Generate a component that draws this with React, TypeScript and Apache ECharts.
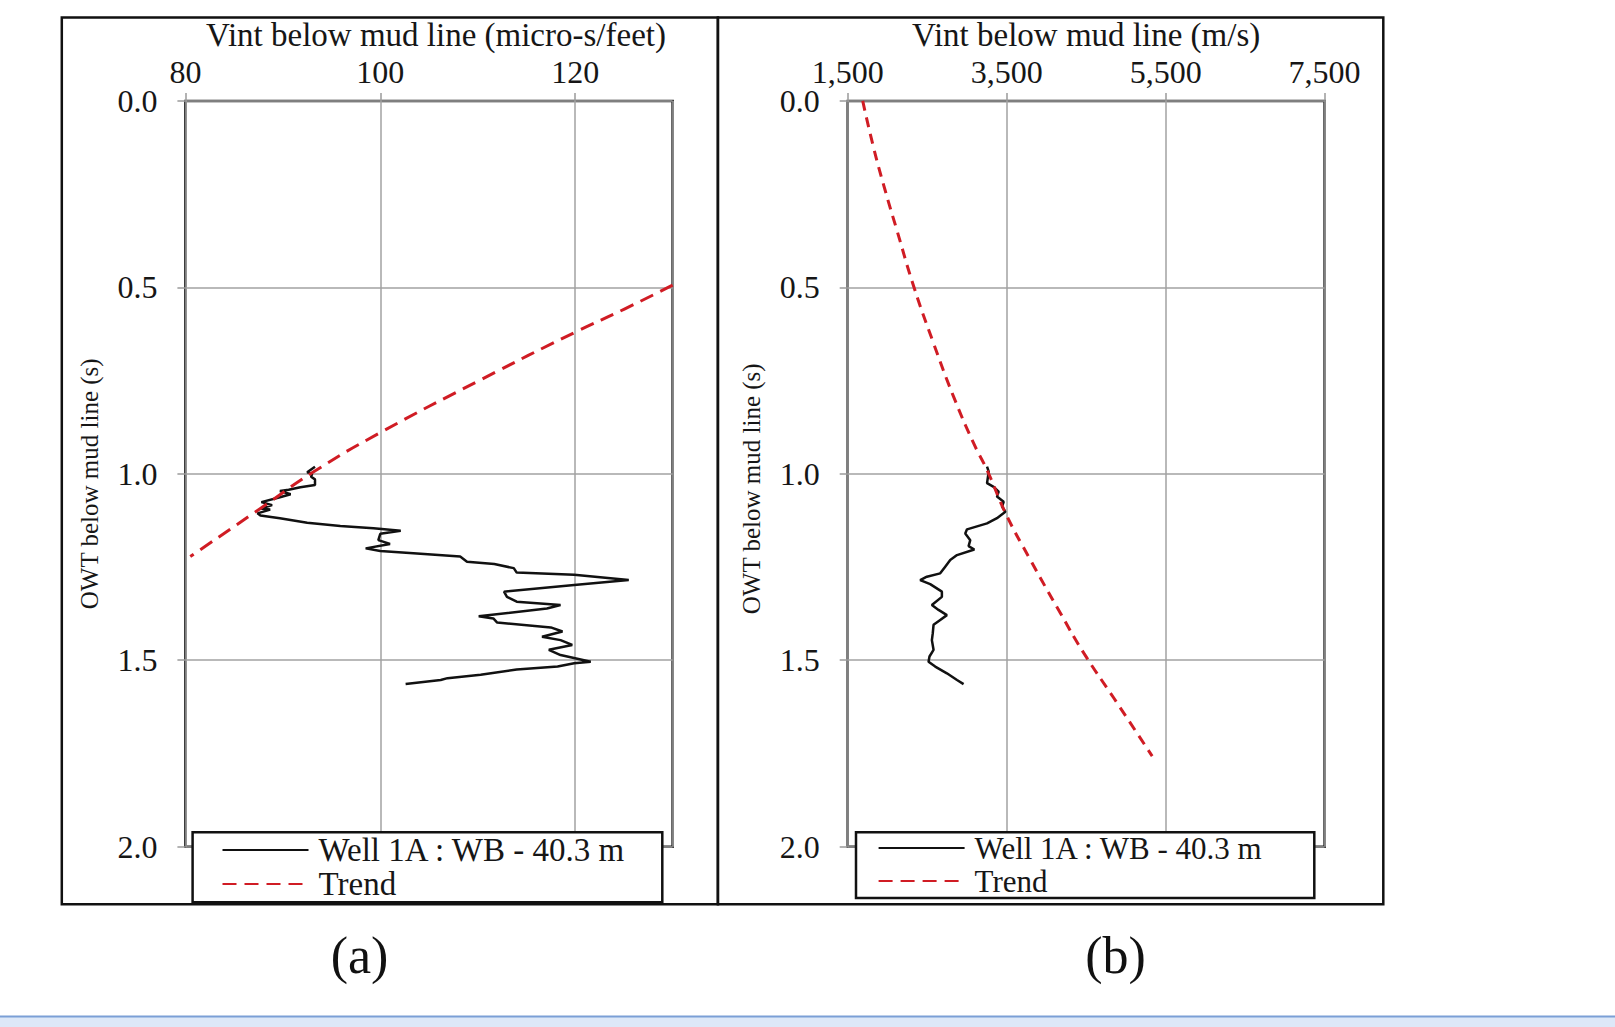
import React, { useEffect, useRef } from "react";
import * as echarts from "echarts";

// ---- Panel (a): slowness (micro-s/feet) vs OWT (s)
const wellATime = [0.981, 0.996, 1.0, 1.008, 1.015, 1.03, 1.036, 1.043, 1.046, 1.055, 1.063, 1.076, 1.084, 1.093, 1.096, 1.106, 1.112, 1.119, 1.131, 1.14, 1.146, 1.153, 1.161, 1.178, 1.188, 1.2, 1.207, 1.213, 1.222, 1.236, 1.242, 1.253, 1.265, 1.271, 1.285, 1.298, 1.316, 1.33, 1.343, 1.352, 1.361, 1.382, 1.388, 1.399, 1.412, 1.423, 1.437, 1.446, 1.459, 1.472, 1.486, 1.504, 1.508, 1.517, 1.525, 1.539, 1.548, 1.553, 1.564];
const wellASlowness = [93.3, 92.5, 93.0, 92.9, 93.3, 93.3, 91.8, 90.6, 89.7, 90.8, 89.7, 87.8, 88.9, 87.7, 88.7, 87.4, 87.7, 89.7, 92.5, 95.9, 99.3, 102.1, 100.0, 99.8, 101.0, 98.5, 100.0, 103.4, 108.2, 108.9, 111.7, 113.7, 114.0, 119.9, 125.5, 119.9, 112.7, 113.0, 114.0, 118.5, 117.1, 110.1, 111.6, 112.0, 117.5, 118.7, 116.6, 118.5, 119.7, 117.3, 118.5, 121.6, 119.9, 118.2, 114.0, 110.3, 106.9, 106.2, 102.6];
const trendATime = [0.494, 0.559, 0.619, 0.748, 0.891, 0.994, 1.093, 1.222];
const trendASlowness = [130.0, 125.0, 120.1, 110.3, 99.9, 93.2, 87.7, 80.5];

// ---- Panel (b): velocity (m/s) vs OWT (s)
const wellBTime = [0.981, 0.994, 1.025, 1.035, 1.048, 1.061, 1.075, 1.088, 1.102, 1.119, 1.133, 1.149, 1.16, 1.178, 1.194, 1.203, 1.218, 1.231, 1.249, 1.267, 1.276, 1.285, 1.296, 1.316, 1.33, 1.352, 1.365, 1.379, 1.392, 1.405, 1.428, 1.446, 1.472, 1.49, 1.504, 1.517, 1.535, 1.553, 1.564];
const wellBVelocity = [3253, 3274, 3253, 3336, 3399, 3378, 3462, 3442, 3484, 3378, 3253, 3001, 2979, 3042, 3021, 3093, 2875, 2790, 2727, 2664, 2496, 2412, 2538, 2685, 2685, 2559, 2643, 2748, 2664, 2580, 2570, 2559, 2580, 2529, 2517, 2601, 2748, 2875, 2958];
const trendBTime = [0.0, 0.123, 0.239, 0.346, 0.501, 0.65, 0.793, 0.918, 0.99, 1.11, 1.231, 1.374, 1.481, 1.602, 1.757];
const trendBVelocity = [1689, 1823, 1970, 2118, 2336, 2580, 2832, 3084, 3253, 3496, 3799, 4177, 4471, 4850, 5331];

const seriesWellName = "Well 1A : WB - 40.3 m";
const seriesTrendName = "Trend";
const xTitleA = "Vint below mud line (micro-s/feet)";
const xTitleB = "Vint below mud line (m/s)";
const yTitle = "OWT below mud line (s)";

const SERIF = "'Liberation Serif', 'Times New Roman', serif";
const RED = "#d01c24";
const INK = "#161616";

function pairs(xs: number[], ys: number[]) {
  return ys.map((t, i) => [xs[i], t]);
}

function makeX(grid: number, min: number, max: number, interval: number, name: string, fmt: (v: number) => string, namePad: number[]) {
  return {
    type: "value",
    gridIndex: grid,
    position: "top",
    min,
    max,
    interval,
    name,
    nameLocation: "middle",
    nameGap: 48,
    nameTextStyle: { fontFamily: SERIF, fontSize: 33, color: INK, padding: namePad },
    axisLine: { show: false },
    axisTick: { show: true, length: 8, lineStyle: { color: "#9a9a9a", width: 1.5 } },
    axisLabel: { fontFamily: SERIF, fontSize: 32, color: INK, margin: 13, showMaxLabel: grid === 0 ? false : true, formatter: fmt },
    splitLine: { show: true, lineStyle: { color: "#a2a2a2", width: 1.5 } },
  };
}

function makeY(grid: number, namePad: number[], nameGap: number) {
  return {
    type: "value",
    gridIndex: grid,
    inverse: true,
    min: 0,
    max: 2,
    interval: 0.5,
    name: yTitle,
    nameLocation: "middle",
    nameRotate: 90,
    nameGap,
    nameTextStyle: { fontFamily: SERIF, fontSize: 25, color: INK, padding: namePad },
    axisLine: { show: false },
    axisTick: { show: true, length: 8, lineStyle: { color: "#9a9a9a", width: 1.5 } },
    axisLabel: { fontFamily: SERIF, fontSize: 32, color: INK, margin: 28, formatter: (v: number) => v.toFixed(1) },
    splitLine: { show: true, lineStyle: { color: "#a2a2a2", width: 1.5 } },
  };
}

export default function App() {
  const ref = useRef<HTMLDivElement>(null);
  useEffect(() => {
    if (!ref.current) return;
    const chart = echarts.init(ref.current, undefined, { renderer: "svg" });
    const legendCommon = {
      orient: "vertical",
      itemWidth: 86,
      itemHeight: 14,
      padding: 0,
      selectedMode: false,
      data: [seriesWellName, seriesTrendName],
      itemStyle: { opacity: 0 },
      textStyle: { fontFamily: SERIF, fontSize: 33, color: INK },
      z: 6,
    };
    chart.setOption({
      animation: false,
      backgroundColor: "#ffffff",
      grid: [
        { left: 185.4, top: 100.9, width: 487.2, height: 745.8, show: true, borderColor: "#1a1a1a", borderWidth: 2.5, containLabel: false },
        { left: 847.7, top: 100.9, width: 476.9, height: 745.8, show: true, borderColor: "#1a1a1a", borderWidth: 2.5, containLabel: false },
      ],
      xAxis: [
        makeX(0, 80, 130, 20, xTitleA, (v: number) => String(v), [0, 0, 0, 14]),
        makeX(1, 1500, 7500, 2000, xTitleB, (v: number) => v.toLocaleString("en-US"), [0, 0, 0, 0]),
      ],
      yAxis: [makeY(0, [0, 20, 0, 0], 83), makeY(1, [0, 30, 0, 0], 84)],
      legend: [
        { ...legendCommon, left: 221.5, top: 833.5, itemGap: 1, textStyle: { ...legendCommon.textStyle, padding: [0, 0, 0, 5] } },
        { ...legendCommon, left: 877.6, top: 832.5, itemGap: 2, textStyle: { ...legendCommon.textStyle, fontSize: 31, padding: [0, 0, 0, 5] } },
      ],
      series: [
        { name: seriesWellName, type: "line", xAxisIndex: 0, yAxisIndex: 0, data: pairs(wellASlowness, wellATime), symbol: "none", lineStyle: { color: "#111", width: 2.5 }, itemStyle: { color: "#111" } },
        { name: seriesTrendName, type: "line", xAxisIndex: 0, yAxisIndex: 0, data: pairs(trendASlowness, trendATime), symbol: "none", smooth: true, lineStyle: { color: RED, width: 3, type: [14, 8] }, itemStyle: { color: RED } },
        { name: seriesWellName, type: "line", xAxisIndex: 1, yAxisIndex: 1, data: pairs(wellBVelocity, wellBTime), symbol: "none", lineStyle: { color: "#111", width: 2.5 }, itemStyle: { color: "#111" } },
        { name: seriesTrendName, type: "line", xAxisIndex: 1, yAxisIndex: 1, data: pairs(trendBVelocity, trendBTime), symbol: "none", smooth: true, lineStyle: { color: RED, width: 3, type: [10, 7] }, itemStyle: { color: RED } },
      ],
      graphic: [
        { type: "rect", z: 3, shape: { x: 192.6, y: 832.3, width: 469.7, height: 70 }, style: { fill: "#fff", stroke: "#111", lineWidth: 2.5 } },
        { type: "rect", z: 3, shape: { x: 856, y: 832.3, width: 458.3, height: 65.7 }, style: { fill: "#fff", stroke: "#111", lineWidth: 2.5 } },
        { type: "rect", z: 7, shape: { x: 61.8, y: 17.5, width: 656.1, height: 886.8 }, style: { fill: "none", stroke: "#111", lineWidth: 2.5 } },
        { type: "rect", z: 7, shape: { x: 717.9, y: 17.5, width: 665.4, height: 886.8 }, style: { fill: "none", stroke: "#111", lineWidth: 2.5 } },
        { type: "text", z: 7, x: 359.5, y: 955, style: { text: "(a)", font: `52px ${SERIF}`, fill: "#111", textAlign: "center", textVerticalAlign: "middle" } },
        { type: "text", z: 7, x: 1115.5, y: 955, style: { text: "(b)", font: `52px ${SERIF}`, fill: "#111", textAlign: "center", textVerticalAlign: "middle" } },
        { type: "rect", z: 7, shape: { x: 0, y: 1016, width: 1615, height: 11 }, style: { fill: "#dde8f8" } },
        { type: "line", z: 7, shape: { x1: 0, y1: 1016.5, x2: 1615, y2: 1016.5 }, style: { stroke: "#7b9fd6", lineWidth: 2 } },
      ],
    });
    return () => chart.dispose();
  }, []);
  return <div ref={ref} style={{ position: "absolute", left: 0, top: 0, width: 1615, height: 1027, background: "#fff" }} />;
}
